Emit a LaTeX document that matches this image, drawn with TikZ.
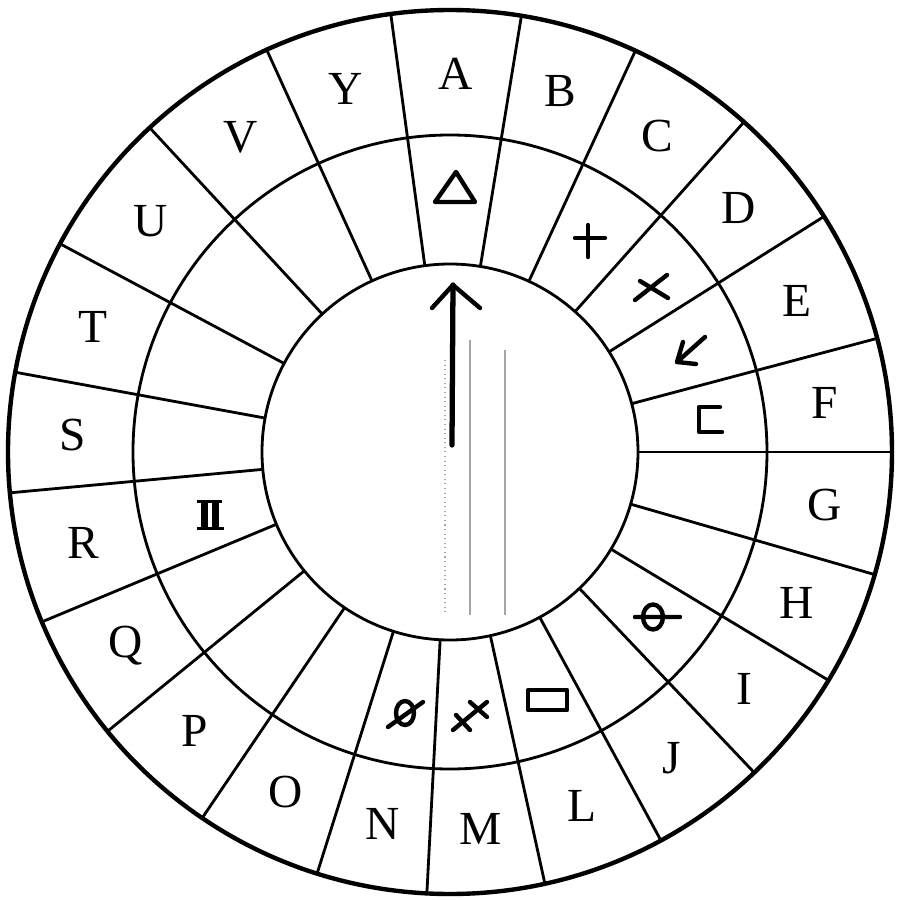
\documentclass[tikz,border=0pt]{standalone}
\usepackage{fontspec}
\setmainfont{Liberation Serif}
\usepackage{tikz}
\usetikzlibrary{arrows.meta}
\usepackage{xcolor}
\definecolor{cScan}{RGB}{165,165,165}

\begin{document}
\begin{tikzpicture}[
    rim/.style={line width=1.25pt},
    spoke/.style={line width=0.8pt},
    glyph/.style={line width=1.25pt,line cap=round,line join=round},
    letter/.style={font=\fontsize{13.5}{15}\selectfont,inner sep=0pt},
    scan/.style={cScan,line width=0.3pt}
  ]
  \useasboundingbox (-4.5,-4.48) rectangle (4.5,4.52);
  % Rings
  \draw[rim]   (0,0) circle (4.42);
  \draw[spoke] (0,0) circle (3.17);
  \draw[spoke] (0,0) circle (1.88);
  % Sectors and letters
  \foreach \a/\b/\l in {97.7/80.7/A, 80.7/65.2/B, 65.2/48.3/C, 48.3/32.2/D,
      32.2/14.9/E, 14.9/0/F, 0/-16.1/G, -16.1/-31.1/H, -31.1/-46.5/I,
      -46.5/-61.5/J, -61.5/-77.6/L, -77.6/-93/M, -93/-107.5/N,
      -107.5/-124.1/O, -124.1/-140.8/P, -140.8/-157.4/Q, -157.4/-174.7/R,
      -174.7/-190.4/S, 169.6/151.9/T, 151.9/132.8/U, 132.8/114.5/V,
      114.5/97.7/Y} {
    \draw[spoke] (\a:1.88) -- (\a:4.42);
    \node[letter] (l\l) at ({(\a+\b)/2}:3.78) {\l};
  }
  % Cipher marks
  \draw[glyph] (0.06,2.80) -- (-0.15,2.50) -- (0.25,2.50) -- cycle;
  \draw[glyph] (1.25,2.14) -- (1.55,2.14) (1.38,2.27) -- (1.38,1.95);
  \draw[glyph] (1.85,1.52) -- (2.17,1.77) (1.90,1.71) -- (2.18,1.54);
  \draw[glyph] (2.55,1.15) -- (2.27,0.90) (2.33,1.10) -- (2.27,0.90) -- (2.46,0.88);
  \draw[glyph] (2.70,0.45) -- (2.49,0.45) -- (2.49,0.20) -- (2.72,0.20);
  \draw[glyph] (2.03,-1.65) ellipse (0.10 and 0.125) (1.85,-1.65) -- (2.30,-1.65);
  \draw[glyph] (0.78,-2.38) rectangle (1.17,-2.58);
  \draw[glyph] (0.03,-2.78) -- (0.37,-2.50) (0.06,-2.63) -- (0.20,-2.78)
    (0.20,-2.50) -- (0.37,-2.65);
  \draw[glyph] (-0.45,-2.61) ellipse (0.09 and 0.12) (-0.62,-2.75) -- (-0.27,-2.50);
  \draw[line width=0.9pt] (-2.53,-0.495) -- (-2.28,-0.495) (-2.53,-0.765) -- (-2.26,-0.765);
  \draw[line width=2pt] (-2.455,-0.495) -- (-2.455,-0.765) (-2.345,-0.495) -- (-2.345,-0.765);
  % Pointer
  \draw[line width=1.5pt,line cap=round] (0.02,0.07) -- (0.03,1.67);
  \draw[glyph] (-0.18,1.44) -- (0.03,1.67) -- (0.30,1.44);
  % Faint scan lines
  \draw[scan] (0.20,1.12) -- (0.20,-1.63);
  \draw[scan] (0.55,1.02) -- (0.55,-1.63);
  \draw[scan,densely dotted] (-0.05,0.92) -- (-0.05,-1.63);
\end{tikzpicture}
\end{document}
